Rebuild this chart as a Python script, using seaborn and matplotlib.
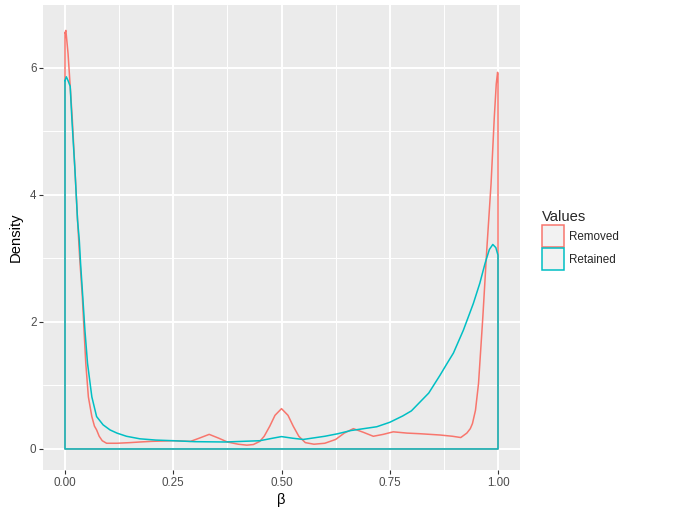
import matplotlib
matplotlib.use("Agg")
import matplotlib.pyplot as plt
import pandas as pd
import seaborn as sns
from matplotlib.patches import Patch
from matplotlib.ticker import MultipleLocator

# Density curves (x = beta, y = density)
removed_x = [0.0, 0.002, 0.007, 0.012, 0.017, 0.023, 0.029, 0.034, 0.040, 0.044,
             0.048, 0.054, 0.062, 0.068, 0.073, 0.079, 0.086, 0.096, 0.12, 0.15,
             0.173, 0.2, 0.25, 0.29, 0.31, 0.333, 0.355, 0.375, 0.4, 0.42,
             0.435, 0.45, 0.46, 0.473, 0.485, 0.5, 0.515, 0.527, 0.54, 0.555,
             0.575, 0.6, 0.625, 0.645, 0.666, 0.69, 0.712, 0.735, 0.758, 0.79,
             0.82, 0.866, 0.895, 0.914, 0.928, 0.936, 0.941, 0.948, 0.955, 0.965,
             0.974, 0.984, 0.9915, 0.996, 0.999, 1.0]
removed_y = [6.55, 6.59, 6.23, 5.71, 5.18, 4.39, 3.6, 3.0, 2.40, 1.87,
             1.35, 0.82, 0.51, 0.36, 0.30, 0.20, 0.13, 0.09, 0.09, 0.10,
             0.11, 0.12, 0.13, 0.12, 0.17, 0.23, 0.17, 0.11, 0.075, 0.06,
             0.07, 0.12, 0.2, 0.36, 0.53, 0.635, 0.53, 0.36, 0.2, 0.1,
             0.075, 0.09, 0.15, 0.25, 0.32, 0.26, 0.2, 0.23, 0.27, 0.25,
             0.24, 0.22, 0.2, 0.18, 0.25, 0.32, 0.40, 0.61, 1.03, 2.08,
             3.13, 4.18, 5.23, 5.75, 5.93, 5.9]

retained_x = [0.0, 0.003, 0.007, 0.012, 0.016, 0.023, 0.029, 0.033, 0.036, 0.041,
              0.046, 0.052, 0.062, 0.073, 0.088, 0.104, 0.12, 0.142, 0.173, 0.21,
              0.25, 0.3, 0.37, 0.45, 0.48, 0.5, 0.525, 0.55, 0.6, 0.63,
              0.66, 0.69, 0.72, 0.75, 0.78, 0.8, 0.82, 0.84, 0.866, 0.88,
              0.897, 0.92, 0.943, 0.958, 0.97, 0.98, 0.988, 0.995, 1.0]
retained_y = [5.8, 5.86, 5.8, 5.71, 5.18, 4.39, 3.6, 3.29, 2.92, 2.40,
              1.87, 1.35, 0.82, 0.51, 0.38, 0.30, 0.25, 0.20, 0.16, 0.14,
              0.13, 0.115, 0.11, 0.13, 0.17, 0.195, 0.17, 0.15, 0.2, 0.24,
              0.29, 0.32, 0.35, 0.42, 0.52, 0.6, 0.74, 0.88, 1.16, 1.32,
              1.51, 1.87, 2.29, 2.61, 2.92, 3.14, 3.22, 3.17, 3.05]

groups = ["Removed", "Retained"]
colors = ["#F8766D", "#00BFC4"]


def closed_outline(x, y, name):
    """Outline of a density area: curve plus its baseline, like geom_density."""
    xs = list(x) + [x[-1], x[0], x[0]]
    ys = list(y) + [0.0, 0.0, y[0]]
    return pd.DataFrame({"x": xs, "y": ys, "group": name, "order": range(len(xs))})


frame = pd.concat([
    closed_outline(removed_x, removed_y, groups[0]),
    closed_outline(retained_x, retained_y, groups[1]),
], ignore_index=True)

sns.set_theme(style="darkgrid", rc={
    "axes.facecolor": "#EBEBEB",
    "grid.color": "white",
    "axes.edgecolor": "none",
})
plt.rcParams["font.family"] = ["Liberation Sans", "DejaVu Sans"]

fig = plt.figure(figsize=(6.8, 5.2), dpi=100)
ax = fig.add_axes([43 / 680, 50 / 520, 477 / 680, 465 / 520])

sns.lineplot(
    data=frame, x="x", y="y", hue="group", units="group", estimator=None,
    sort=False, palette=colors, hue_order=groups, linewidth=1.1, legend=False, ax=ax,
)

ax.set_xlim(-0.0508, 1.0508)
ax.set_ylim(-0.331, 6.99)
ax.xaxis.set_minor_locator(MultipleLocator(0.125))
ax.yaxis.set_minor_locator(MultipleLocator(1))
ax.set_xticks([0, 0.25, 0.5, 0.75, 1.0])
ax.set_xticklabels(["0.00", "0.25", "0.50", "0.75", "1.00"])
ax.set_yticks([0, 2, 4, 6])
ax.set_yticklabels(["0", "2", "4", "6"])
ax.grid(which="major", color="white", linewidth=1.4)
ax.grid(which="minor", color="white", linewidth=0.7)
ax.set_axisbelow(True)
ax.tick_params(which="major", length=2.7, width=0.8, color="#333333",
               labelsize=8.4, labelcolor="#4D4D4D", pad=2, bottom=True, left=True)
ax.tick_params(which="minor", length=0)
ax.set_xlabel("β", fontsize=10.6, color="black", labelpad=3)
ax.set_ylabel("Density", fontsize=10.6, color="black", labelpad=5)

handles = [Patch(facecolor="#F2F2F2", edgecolor=c, linewidth=1.1, label=g)
           for g, c in zip(groups, colors)]
fig.legend(
    handles=handles, title="Values", loc="upper left",
    bbox_to_anchor=(536 / 680, 1 - 204 / 520), frameon=False,
    fontsize=8.4, title_fontsize=10.6, handlelength=1.9, handleheight=2.5,
    handletextpad=0.45, labelspacing=0.12, borderpad=0, alignment="left",
)

fig.savefig("out.png", dpi=100)
